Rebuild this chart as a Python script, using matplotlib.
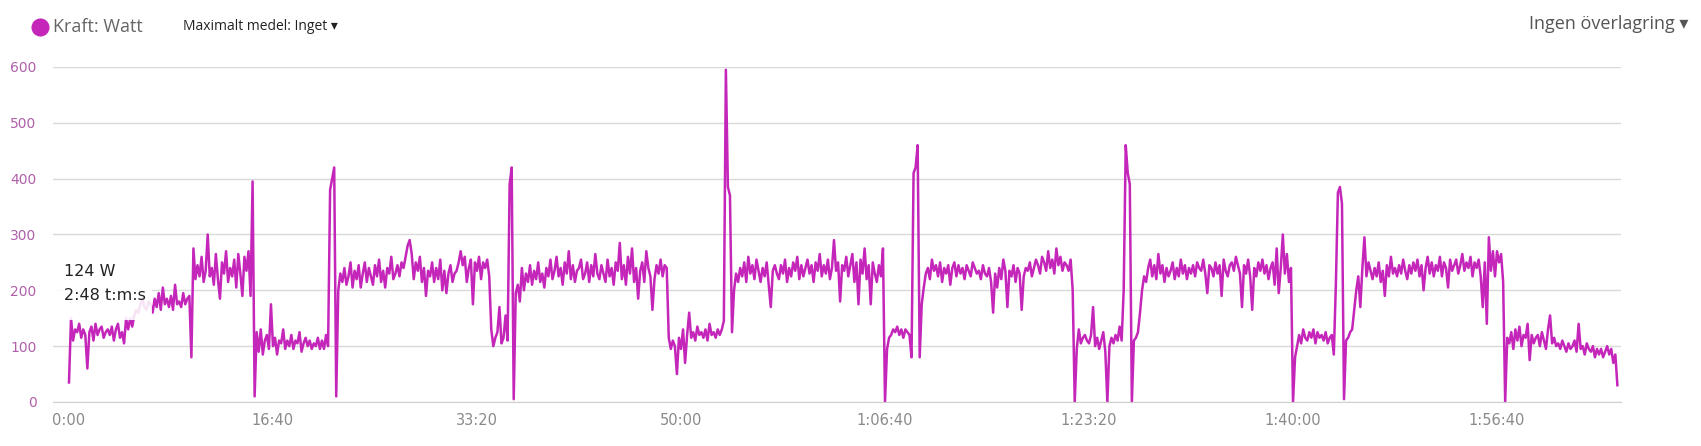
import matplotlib
matplotlib.use("Agg")
import matplotlib.pyplot as plt
from matplotlib.patches import Rectangle
from matplotlib.lines import Line2D
import numpy as np

# power samples (W), one every 10 s
SAMPLE_S = 10
watts = [
    35, 150, 110, 130, 125, 140, 115, 130, 120, 60,
    125, 135, 110, 140, 120, 130, 135, 115, 125, 130,
    120, 135, 110, 130, 140, 115, 125, 105, 150, 130,
    150, 135, 155, 165, 160, 175, 185, 170, 165, 180,
    175, 160, 185, 170, 195, 165, 205, 175, 185, 170,
    190, 165, 210, 175, 180, 170, 195, 175, 185, 190,
    80, 275, 220, 245, 225, 260, 215, 235, 300, 225,
    240, 210, 265, 220, 185, 250, 230, 270, 215, 240,
    225, 255, 205, 265, 230, 190, 260, 235, 270, 190,
    395, 10, 125, 90, 130, 85, 110, 120, 95, 175,
    100, 115, 85, 110, 105, 130, 95, 110, 100, 120,
    95, 110, 105, 125, 90, 105, 115, 100, 110, 95,
    105, 100, 115, 95, 110, 95, 120, 100, 380, 400,
    420, 10, 200, 230, 215, 240, 210, 225, 250, 205,
    235, 220, 245, 205, 230, 250, 215, 240, 225, 210,
    245, 225, 255, 215, 235, 205, 240, 230, 260, 220,
    230, 245, 225, 250, 240, 260, 280, 290, 265, 220,
    250, 235, 260, 215, 240, 190, 235, 225, 250, 215,
    240, 220, 255, 200, 235, 195, 230, 245, 215, 230,
    235, 250, 270, 245, 260, 215, 240, 255, 175, 250,
    235, 260, 220, 250, 240, 255, 225, 130, 100, 115,
    125, 170, 105, 115, 155, 110, 390, 420, 5, 195,
    210, 180, 240, 200, 230, 215, 245, 210, 235, 220,
    250, 215, 230, 205, 240, 225, 255, 220, 235, 260,
    225, 240, 210, 250, 230, 270, 220, 245, 215, 235,
    240, 255, 220, 230, 250, 215, 245, 225, 265, 230,
    220, 245, 230, 215, 255, 225, 240, 210, 250, 235,
    285, 220, 245, 210, 260, 230, 275, 215, 240, 185,
    235, 250, 215, 270, 240, 225, 165, 220, 245, 230,
    255, 225, 245, 240, 115, 95, 110, 100, 50, 115,
    95, 130, 70, 120, 160, 115, 125, 110, 135, 120,
    125, 115, 130, 110, 140, 120, 125, 115, 130, 120,
    130, 145, 595, 385, 370, 125, 200, 230, 215, 240,
    225, 250, 215, 260, 230, 245, 220, 255, 235, 215,
    240, 225, 250, 210, 170, 235, 245, 230, 220, 245,
    230, 255, 215, 240, 225, 250, 235, 260, 220, 245,
    225, 240, 255, 230, 245, 215, 250, 235, 265, 225,
    245, 230, 255, 220, 240, 290, 235, 250, 180, 245,
    235, 260, 225, 245, 265, 215, 250, 175, 255, 230,
    275, 220, 245, 175, 250, 230, 215, 245, 225, 275,
    0, 95, 115, 120, 130, 125, 135, 120, 130, 115,
    130, 125, 120, 80, 410, 420, 460, 80, 175, 205,
    230, 240, 220, 255, 235, 245, 225, 250, 215, 240,
    230, 245, 210, 240, 250, 225, 245, 230, 240, 220,
    245, 235, 225, 250, 240, 230, 235, 220, 245, 230,
    225, 240, 215, 160, 230, 205, 240, 220, 255, 235,
    170, 235, 225, 245, 215, 240, 230, 165, 225, 240,
    235, 250, 225, 240, 255, 245, 230, 260, 250, 235,
    270, 240, 255, 230, 275, 245, 260, 235, 250, 245,
    235, 255, 200, 0, 95, 130, 105, 115, 120, 110,
    105, 120, 170, 100, 115, 95, 110, 125, 90, 0,
    100, 115, 105, 120, 110, 135, 110, 200, 460, 410,
    390, 0, 110, 115, 125, 160, 200, 225, 215, 240,
    255, 225, 245, 220, 265, 230, 245, 215, 240, 225,
    235, 250, 220, 240, 225, 255, 230, 245, 220, 240,
    230, 245, 225, 250, 240, 235, 255, 230, 195, 245,
    240, 225, 250, 230, 245, 190, 255, 235, 225, 245,
    250, 235, 260, 245, 230, 170, 245, 230, 255, 225,
    165, 240, 225, 250, 235, 255, 230, 245, 220, 240,
    250, 210, 275, 195, 240, 300, 230, 265, 215, 240,
    0, 80, 100, 120, 105, 130, 115, 110, 125, 115,
    130, 105, 125, 115, 120, 110, 125, 105, 115, 120,
    85, 210, 375, 385, 355, 5, 110, 115, 125, 130,
    165, 200, 225, 170, 240, 295, 225, 250, 235, 220,
    240, 225, 250, 215, 235, 190, 245, 225, 260, 230,
    240, 225, 245, 230, 255, 235, 220, 245, 230, 250,
    235, 255, 225, 245, 200, 240, 260, 230, 250, 225,
    245, 235, 260, 225, 250, 240, 205, 255, 235, 245,
    255, 230, 245, 265, 235, 250, 240, 260, 225, 250,
    240, 255, 225, 170, 250, 140, 295, 235, 270, 225,
    270, 250, 265, 215, 0, 115, 105, 125, 95, 130,
    110, 135, 100, 120, 115, 140, 75, 120, 105, 115,
    120, 100, 125, 110, 95, 130, 155, 105, 115, 100,
    105, 95, 110, 100, 90, 105, 95, 100, 110, 90,
    140, 95, 100, 85, 105, 95, 90, 100, 80, 95,
    85, 95, 80, 90, 100, 85, 95, 70, 85, 30,
]

x_ticks = [0, 1000, 2000, 3000, 4000, 5000, 6000, 7000]
x_labels = ["0:00", "16:40", "33:20", "50:00", "1:06:40", "1:23:20", "1:40:00", "1:56:40"]
y_ticks = [0, 100, 200, 300, 400, 500, 600]

LINE = "#c426ba"
NARROW = ["Liberation Sans Narrow", "DejaVu Sans"]

t = np.arange(len(watts)) * SAMPLE_S

fig = plt.figure(figsize=(17.01, 4.46), dpi=100)
ax = fig.add_axes([0.0312, 0.0987, 0.9218, 0.7511])

ax.plot(t, watts, color=LINE, linewidth=1.8, clip_on=False, zorder=2)

ax.set_xlim(-78, 7608)
ax.set_ylim(0, 600)
ax.set_yticks(y_ticks)
ax.set_xticks(x_ticks)
ax.set_xticklabels(x_labels, family=NARROW, fontsize=10.5, color="#8a8a8a")
ax.set_yticklabels([str(v) for v in y_ticks], family=NARROW, fontsize=10, color="#b060aa")
ax.tick_params(axis="both", length=0)
ax.tick_params(axis="y", pad=12)
ax.tick_params(axis="x", pad=8)
ax.grid(axis="y", color="#d9d9d9", linewidth=1)
ax.set_axisbelow(True)
for s in ["top", "right", "left"]:
    ax.spines[s].set_visible(False)
ax.spines["bottom"].set_color("#d0d0d0")

# hover tooltip that fades the line behind it
ax.add_patch(Rectangle((-78, 147), 485, 116, facecolor="white", alpha=0.88,
                       edgecolor="none", zorder=3, clip_on=False))
ax.text(-24, 226, "124 W", fontsize=11.5, color="#222222", zorder=4)
ax.text(-24, 182, "2:48 t:m:s", fontsize=11.5, color="#222222", zorder=4)

# header row
fig.add_artist(Line2D([40 / 1701], [1 - 27 / 446], marker="o", markersize=12,
                      color=LINE, transform=fig.transFigure))
fig.text(53 / 1701, 1 - 27 / 446, "Kraft: Watt", fontsize=13, color="#666666",
         family=["Open Sans", "DejaVu Sans"], va="center")
fig.text(183 / 1701, 1 - 27 / 446, "Maximalt medel: Inget \u25be", fontsize=10,
         color="#222222", family=["Open Sans", "DejaVu Sans"], va="center")
fig.text(1688 / 1701, 1 - 24 / 446, "Ingen överlagring \u25be", fontsize=13,
         color="#555555", family=["Open Sans", "DejaVu Sans"], va="center", ha="right")

fig.savefig("out.png", dpi=100)
